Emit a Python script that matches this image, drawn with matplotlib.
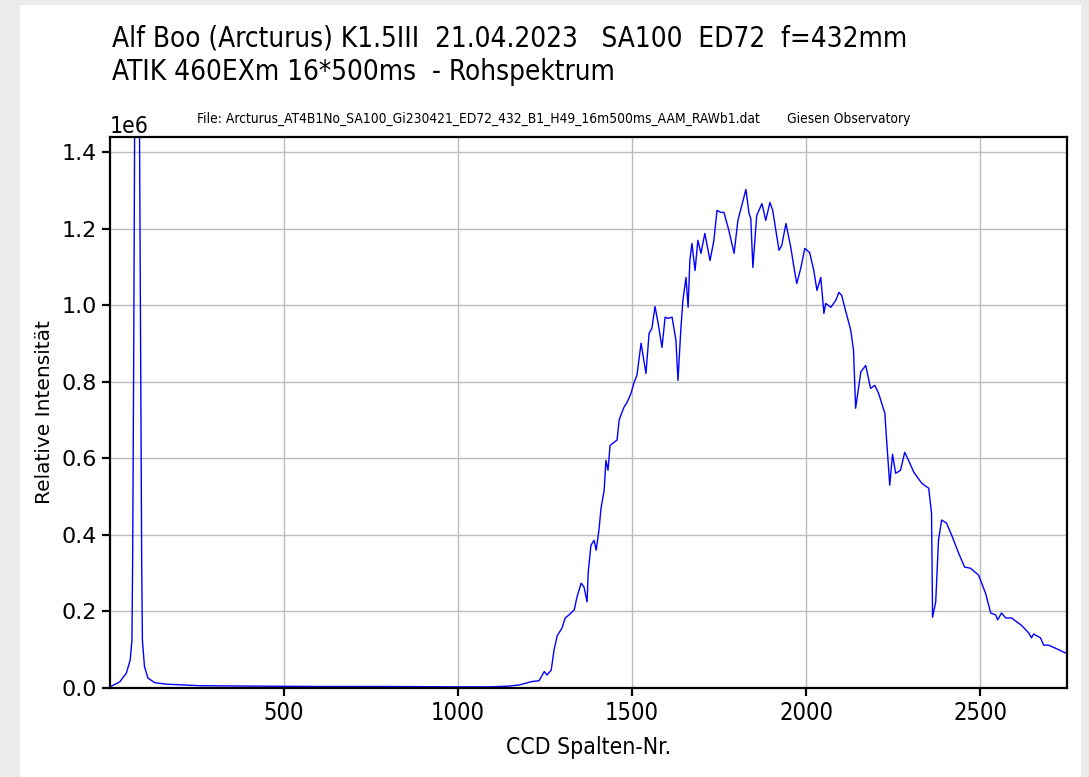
import matplotlib
matplotlib.use('Agg')
import matplotlib.pyplot as plt
from matplotlib.patches import Rectangle
import numpy as np

# CCD column numbers and relative intensity (units of 1e6)
spalte = [1, 5, 29, 48, 59, 64, 66, 69, 71.5, 74, 79, 84, 86, 89, 92, 94,
          100, 110, 129, 163, 258, 400, 600, 800, 1000, 1090,
          1147, 1176, 1213, 1233, 1248, 1256, 1268, 1276, 1285, 1299, 1308,
          1319, 1334, 1342, 1354, 1362, 1371, 1374, 1382, 1391, 1397, 1405,
          1411, 1420, 1425, 1431, 1437, 1448, 1457, 1463, 1468, 1477, 1486,
          1497, 1506, 1514, 1526, 1540, 1549, 1557, 1566, 1575, 1586, 1595,
          1603, 1615, 1626, 1632, 1640, 1646, 1655, 1661, 1666, 1672, 1681,
          1689, 1698, 1709, 1724, 1735, 1744, 1755, 1764, 1778, 1793, 1804,
          1815, 1827, 1836, 1841, 1847, 1858, 1873, 1884, 1896, 1904, 1913,
          1922, 1930, 1942, 1956, 1965, 1973, 1985, 1996, 2010, 2022, 2031,
          2042, 2051, 2056, 2071, 2085, 2094, 2102, 2113, 2128, 2136, 2142,
          2157, 2171, 2185, 2197, 2208, 2226, 2231, 2240, 2248, 2257, 2271,
          2283, 2294, 2309, 2332, 2352, 2360, 2363, 2372, 2380, 2389, 2403,
          2418, 2438, 2455, 2472, 2495, 2515, 2530, 2544, 2550, 2561, 2573,
          2590, 2618, 2639, 2647, 2653, 2673, 2682, 2696, 2716, 2739, 2749]
intensitaet = [0.004, 0.005, 0.016, 0.039, 0.073, 0.125, 0.33, 0.85, 1.41, 2.3, 3.5, 2.3, 1.41, 0.85, 0.33, 0.125,
               0.056, 0.026, 0.014, 0.010, 0.006, 0.005, 0.004, 0.004, 0.003, 0.003,
               0.005, 0.008, 0.017, 0.019, 0.043, 0.034, 0.047, 0.099, 0.136, 0.157, 0.183,
               0.191, 0.204, 0.238, 0.274, 0.264, 0.225, 0.300, 0.373, 0.386, 0.360, 0.413,
               0.470, 0.517, 0.595, 0.569, 0.634, 0.642, 0.648, 0.700, 0.713, 0.734, 0.747,
               0.770, 0.799, 0.817, 0.901, 0.822, 0.927, 0.940, 0.997, 0.953, 0.890, 0.969,
               0.966, 0.969, 0.909, 0.804, 0.935, 1.013, 1.073, 0.995, 1.117, 1.162, 1.091,
               1.170, 1.136, 1.188, 1.117, 1.170, 1.248, 1.243, 1.243, 1.196, 1.136, 1.222,
               1.261, 1.303, 1.240, 1.227, 1.099, 1.235, 1.266, 1.222, 1.269, 1.248, 1.196,
               1.144, 1.157, 1.214, 1.151, 1.099, 1.057, 1.099, 1.149, 1.138, 1.091, 1.039,
               1.073, 0.979, 1.005, 0.995, 1.013, 1.034, 1.026, 0.987, 0.935, 0.883, 0.731,
               0.826, 0.843, 0.783, 0.791, 0.770, 0.718, 0.648, 0.530, 0.611, 0.561, 0.569,
               0.616, 0.595, 0.564, 0.535, 0.522, 0.457, 0.185, 0.225, 0.386, 0.439, 0.431,
               0.399, 0.352, 0.316, 0.313, 0.295, 0.248, 0.196, 0.191, 0.178, 0.196, 0.183,
               0.183, 0.164, 0.144, 0.131, 0.141, 0.131, 0.112, 0.112, 0.104, 0.094, 0.090]

titel1 = "Alf Boo (Arcturus) K1.5III  21.04.2023   SA100  ED72  f=432mm"
titel2 = "ATIK 460EXm 16*500ms  - Rohspektrum"
datei = "File: Arcturus_AT4B1No_SA100_Gi230421_ED72_432_B1_H49_16m500ms_AAM_RAWb1.dat       Giesen Observatory"

plt.rcParams['font.family'] = ['DejaVu Sans']
plt.rcParams['font.stretch'] = 'condensed'

fig = plt.figure(figsize=(10.89, 7.77), dpi=100, facecolor='#ebebeb')
fig.patches.append(Rectangle((20 / 1089, 0), 1061 / 1089, 772 / 777,
                             transform=fig.transFigure, facecolor='white',
                             edgecolor='none', zorder=-1))

ax = fig.add_axes([110 / 1089, 89 / 777, 957 / 1089, 551 / 777])
ax.plot(spalte, np.array(intensitaet) * 1e6, color='b', linewidth=1.0)

ax.set_xlim(1, 2749)
ax.set_ylim(0, 1.44e6)
ax.set_yticks(np.arange(0, 1.41e6, 0.2e6))
ax.grid(True, color='#bcbcbc', linewidth=1.0)
for s in ax.spines.values():
    s.set_linewidth(1.6)
ax.tick_params(length=6, width=1.6)
for lbl in ax.get_xticklabels():
    lbl.set_fontsize(17)
for lbl in ax.get_yticklabels():
    lbl.set_fontsize(16)
    lbl.set_fontstretch('normal')
ax.yaxis.get_offset_text().set_fontsize(16.5)

ax.set_xlabel('CCD Spalten-Nr.', fontsize=16.5, labelpad=8)
ax.set_ylabel('Relative Intensität', fontsize=14.5, fontstretch='normal', labelpad=5)

fig.text(112 / 1089, (777 - 47) / 777, titel1, fontsize=20, va='baseline')
fig.text(112 / 1089, (777 - 80) / 777, titel2, fontsize=20, va='baseline')
fig.text(197 / 1089, (777 - 119) / 777, datei, fontsize=9.9, va='center')

fig.savefig('out.png', dpi=100, facecolor=fig.get_facecolor())
